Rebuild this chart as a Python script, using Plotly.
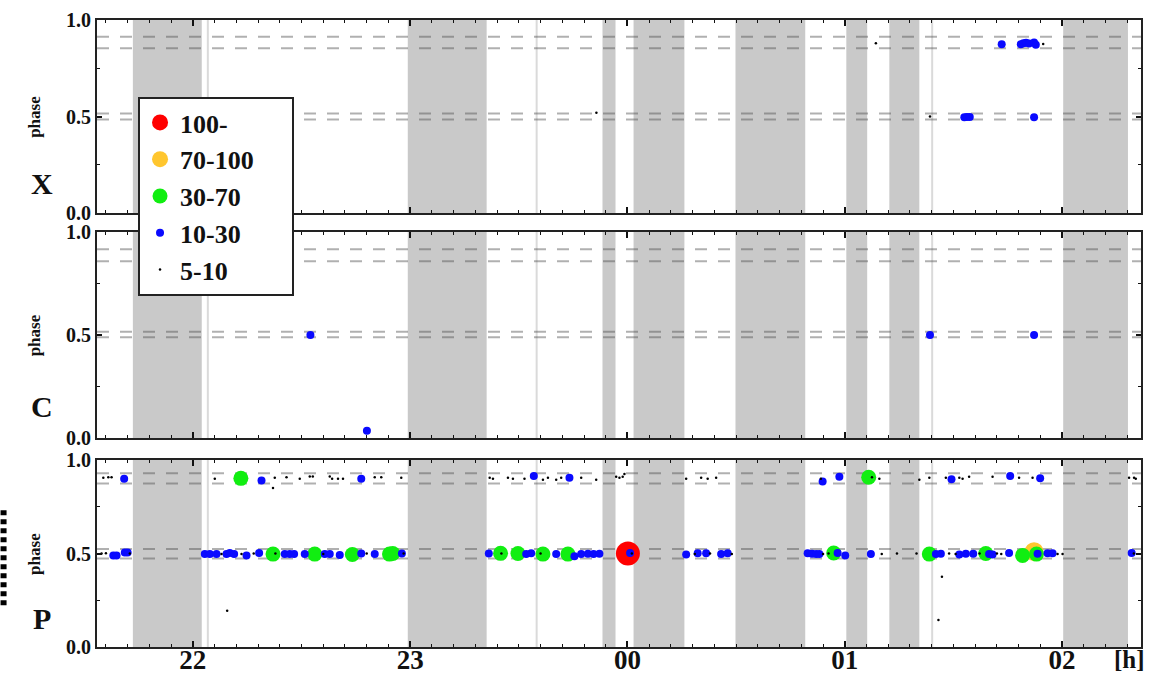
import plotly.graph_objects as go

# ---------------- data (time in hours relative to 00:00, phase 0..1) ----------------
hour_ticks = [-2, -1, 0, 1, 2]
hour_labels = ["22", "23", "00", "01", "02"]

# shaded intervals (start, end) in hours
band_start = [-2.276, -1.011, -0.115, 0.028, 0.497, 1.007, 1.205, 2.005]
band_end = [-1.959, -0.648, -0.055, 0.262, 0.818, 1.103, 1.343, 2.303]
thin_lines = [-1.931, -0.418, 1.402]

# dashed reference levels per panel
x_levels = [0.913, 0.853, 0.516, 0.485]
c_levels = [0.916, 0.858, 0.516, 0.489]
p_levels = [0.929, 0.875, 0.524, 0.473]

# panel X
x_blue_time = [1.550, 1.562, 1.575, 1.871, 1.722, 1.810, 1.822, 1.834, 1.848, 1.871, 1.879]
x_blue_phase = [0.496, 0.497, 0.498, 0.496, 0.874, 0.874, 0.879, 0.882, 0.878, 0.884, 0.872]
x_black_time = [-0.143, 1.143, 1.392, 1.913]
x_black_phase = [0.520, 0.880, 0.500, 0.875]

# panel C
c_blue_time = [-1.459, -1.199, 1.392, 1.871]
c_blue_phase = [0.500, 0.035, 0.500, 0.500]

# panel P
p_red_time = [0.002]
p_red_phase = [0.500]
p_orange_time = [1.871]
p_orange_phase = [0.510]
p_green_time = [-1.779, -1.631, -1.439, -1.266, -1.095, -1.080, -0.584, -0.504, -0.389,
                -0.274, 0.949, 1.110, 1.389, 1.649, 1.818, 1.882]
p_green_phase = [0.902, 0.497, 0.497, 0.495, 0.497, 0.500, 0.501, 0.500, 0.497,
                 0.497, 0.503, 0.908, 0.497, 0.500, 0.490, 0.497]
p_blue_time = [-2.316, -1.684, -1.225, -0.431, -0.267, 0.898, 0.975, 1.491, 1.761, 1.899,
               -2.366, -2.351, -2.313, -2.300, -1.945, -1.922, -1.891, -1.845, -1.830, -1.810,
               -1.753, -1.695, -1.577, -1.554, -1.534, -1.485, -1.393, -1.370, -1.324, -1.225,
               -1.163, -1.038, -0.638, -0.466, -0.443, -0.328, -0.244, -0.213, -0.182, -0.156,
               -0.129, 0.012, 0.270, 0.323, 0.362, 0.431, 0.461, 0.829, 0.849, 0.868,
               0.883, 0.967, 1.002, 1.120, 1.419, 1.442, 1.527, 1.557, 1.591, 1.664,
               1.680, 1.756, 1.887, 1.933, 1.956, 2.320]
p_blue_phase = [0.900, 0.890, 0.900, 0.915, 0.905, 0.885, 0.911, 0.897, 0.914, 0.903,
                0.490, 0.490, 0.505, 0.505, 0.497, 0.497, 0.497, 0.497, 0.503, 0.497,
                0.490, 0.503, 0.497, 0.497, 0.497, 0.497, 0.497, 0.497, 0.492, 0.500,
                0.497, 0.500, 0.500, 0.497, 0.501, 0.497, 0.485, 0.497, 0.499, 0.497,
                0.499, 0.503, 0.495, 0.501, 0.501, 0.497, 0.501, 0.501, 0.499, 0.497,
                0.497, 0.503, 0.490, 0.497, 0.497, 0.499, 0.495, 0.499, 0.499, 0.497,
                0.495, 0.503, 0.499, 0.501, 0.501, 0.503]
p_black_time = [-2.412, -2.389, -2.374, -1.899, -1.631, -1.623, -1.569, -1.508, -1.462, -1.448,
                -1.370, -1.359, -1.332, -1.309, -1.163, -1.133, -1.041, -0.634, -0.619, -0.550,
                -0.527, -0.474, -0.389, -0.366, -0.328, -0.305, -0.213, -0.144, -0.052, -0.037,
                -0.022, -0.014, 0.270, 0.339, 0.369, 0.408, 0.890, 1.125, 1.159, 1.343,
                1.389, 1.465, 1.527, 1.542, 1.572, 1.680, 1.802, 1.864, 2.308, 2.331, 2.339,
                -2.420, -2.400, -2.290, -1.868, -1.776, -1.720, -1.620, -1.400, -1.200, -1.030,
                -0.580, -0.400, 0.020, 0.310, 0.380, 0.480, 0.900, 0.925, 1.170, 1.240,
                1.330, 1.480, 1.510, 1.620, 1.700, 1.720, 1.979, 2.002, 2.330,
                -1.842, 1.447, 1.431]
p_black_phase = [0.905, 0.908, 0.908, 0.900, 0.850, 0.905, 0.908, 0.900, 0.912, 0.912,
                 0.912, 0.900, 0.900, 0.900, 0.908, 0.908, 0.905, 0.905, 0.900, 0.905,
                 0.900, 0.900, 0.895, 0.905, 0.895, 0.905, 0.905, 0.895, 0.910, 0.905,
                 0.910, 0.925, 0.900, 0.905, 0.900, 0.905, 0.900, 0.908, 0.900, 0.895,
                 0.905, 0.905, 0.905, 0.900, 0.910, 0.910, 0.905, 0.905, 0.905, 0.905, 0.900,
                 0.500, 0.502, 0.500, 0.497, 0.497, 0.500, 0.500, 0.497, 0.500, 0.500,
                 0.500, 0.500, 0.500, 0.497, 0.500, 0.497, 0.497, 0.500, 0.497, 0.500,
                 0.500, 0.500, 0.497, 0.500, 0.500, 0.497, 0.497, 0.497, 0.500,
                 0.194, 0.376, 0.144]

# ---------------- styling ----------------
FONT = "Liberation Serif"
cats = ["100-", "70-100", "30-70", "10-30", "5-10"]
cat_color = {"100-": "#ff0000", "70-100": "#ffc62e", "30-70": "#11ee11",
             "10-30": "#0a0aff", "5-10": "#000000"}
cat_size = {"100-": 24, "70-100": 19, "30-70": 15, "10-30": 8, "5-10": 2.5}
# legend label text (trailing non-breaking spaces widen the legend box)
cat_label = {"100-": "100-", "70-100": "70-100&nbsp;&nbsp;&nbsp;&nbsp;&nbsp;", "30-70": "30-70",
             "10-30": "10-30", "5-10": "5-10"}

panels = [
    ("X", x_levels, {"10-30": (x_blue_time, x_blue_phase), "5-10": (x_black_time, x_black_phase)}),
    ("C", c_levels, {"10-30": (c_blue_time, c_blue_phase)}),
    ("P", p_levels, {"100-": (p_red_time, p_red_phase), "70-100": (p_orange_time, p_orange_phase),
                     "30-70": (p_green_time, p_green_phase), "10-30": (p_blue_time, p_blue_phase),
                     "5-10": (p_black_time, p_black_phase)}),
]
domains = [[0.6922, 1.0], [0.3333, 0.6619], [0.0, 0.2982]]

fig = go.Figure()
for cat in cats:
    for i, (name, levels, data) in enumerate(panels):
        t, ph = data.get(cat, ([], []))
        fig.add_trace(go.Scatter(
            x=t, y=ph, mode="markers", name=cat_label[cat],
            showlegend=(name == "P"),
            xaxis="x" if i == 0 else f"x{i+1}", yaxis="y" if i == 0 else f"y{i+1}",
            marker=dict(size=cat_size[cat], color=cat_color[cat], line=dict(width=0)),
            hoverinfo="skip"))

shapes = []
annotations = []
for i, (name, levels, data) in enumerate(panels):
    xr = "x" if i == 0 else f"x{i+1}"
    yr = "y" if i == 0 else f"y{i+1}"
    for a, b in zip(band_start, band_end):
        shapes.append(dict(type="rect", xref=xr, yref=f"{yr} domain", x0=a, x1=b, y0=0, y1=1,
                           fillcolor="#c9c9c9", line=dict(width=0), layer="below"))
    for t in thin_lines:
        shapes.append(dict(type="line", xref=xr, yref=f"{yr} domain", x0=t, x1=t, y0=0, y1=1,
                           line=dict(color="#dadada", width=2), layer="below"))
    for lv in levels:
        shapes.append(dict(type="line", xref=f"{xr} domain", yref=yr, x0=0, x1=1, y0=lv, y1=lv,
                           line=dict(color="rgba(80,80,80,0.45)", width=2, dash="12px,11px"),
                           layer="below"))
    annotations.append(dict(text="<b>phase</b>", xref="paper", yref=yr, x=-0.060, y=0.5,
                            textangle=-90, showarrow=False, font=dict(family=FONT, size=17, color="#111"),
                            xanchor="center", yanchor="middle"))
    annotations.append(dict(text=f"<b>{name}</b>", xref="paper", yref=yr, x=-0.053, y=0.155,
                            showarrow=False, font=dict(family=FONT, size=30, color="#111"),
                            xanchor="center", yanchor="middle"))

annotations.append(dict(text="<b>[h]</b>", xref="paper", yref="paper", x=0.989, y=-0.020,
                        showarrow=False, font=dict(family=FONT, size=25, color="#111"),
                        xanchor="center", yanchor="middle"))

# dotted edge mark at far left of the bottom panel
shapes.append(dict(type="line", xref="paper", yref="paper", x0=-0.0895, x1=-0.0895, y0=0.218, y1=0.064,
                   line=dict(color="#000", width=6, dash="5px,4px")))

layout = dict(
    width=1165, height=676,
    margin=dict(l=97, r=24, t=20, b=29, autoexpand=False),
    paper_bgcolor="white", plot_bgcolor="white",
    font=dict(family=FONT, color="#111"),
    shapes=shapes, annotations=annotations,
    legend=dict(x=0.0393, y=0.8772, xanchor="left", yanchor="top",
                bgcolor="white", bordercolor="#222", borderwidth=2,
                font=dict(family=FONT, size=26, color="#111", weight="bold"),
                tracegroupgap=0, itemwidth=30),
)

for i in range(3):
    xk = "xaxis" if i == 0 else f"xaxis{i+1}"
    yk = "yaxis" if i == 0 else f"yaxis{i+1}"
    ya = "y" if i == 0 else f"y{i+1}"
    xa = "x" if i == 0 else f"x{i+1}"
    layout[xk] = dict(
        domain=[0, 1], anchor=ya, range=[-2.441, 2.363], automargin=False,
        tickmode="array", tickvals=hour_ticks, ticktext=hour_labels,
        showticklabels=(i == 2), ticks="inside", ticklen=6, tickwidth=1.5, tickcolor="#111",
        ticklabelstandoff=-12,
        minor=dict(tickmode="linear", tick0=0, dtick=0.1, ticks="inside", ticklen=3,
                   tickcolor="#111", tickwidth=1),
        showgrid=False, zeroline=False, showline=True, linecolor="#222", linewidth=2,
        mirror="allticks",
        tickfont=dict(family=FONT, size=27, color="#111", weight="bold"),
        matches=None if i == 0 else "x",
    )
    layout[yk] = dict(
        domain=domains[i], anchor=xa, range=[0, 1], automargin=False,
        tickmode="array", tickvals=[0, 0.5, 1], ticktext=["0.0", "0.5", "1.0"],
        ticks="inside", ticklen=5, tickwidth=1.5, tickcolor="#111",
        minor=dict(tickmode="array", tickvals=[0.25, 0.75], ticks="inside", ticklen=3,
                   tickcolor="#111", tickwidth=1),
        showgrid=False, zeroline=False, showline=True, linecolor="#222", linewidth=2,
        mirror="allticks",
        tickfont=dict(family=FONT, size=20, color="#111", weight="bold"),
    )

fig.update_layout(**layout)
fig.write_html("out.html")
